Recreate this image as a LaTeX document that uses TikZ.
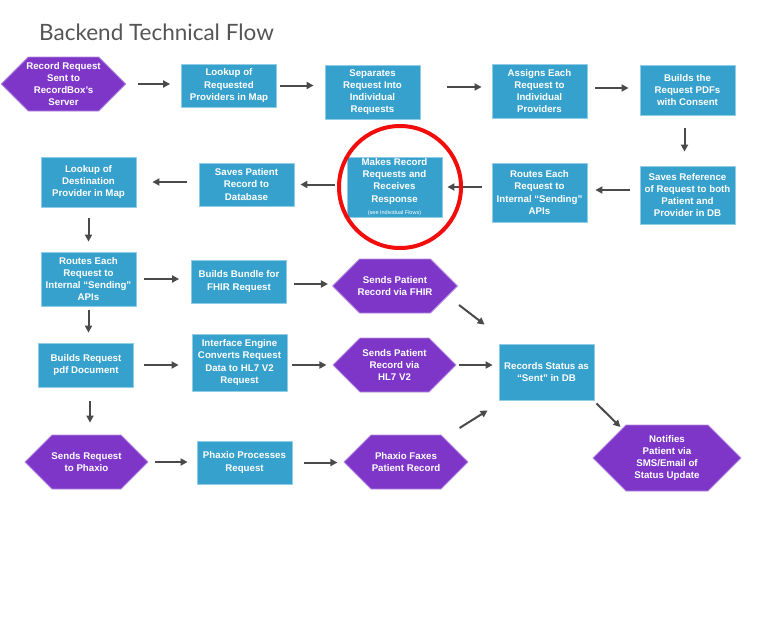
\documentclass[tikz,border=0pt]{standalone}
\usepackage{fontspec}
\setmainfont{Liberation Sans}
\newfontfamily\titlefont{Lato}
\usetikzlibrary{shapes.symbols,arrows.meta}
\definecolor{boxblue}{HTML}{36A1CC}
\definecolor{boxedge}{HTML}{8FCDE6}
\definecolor{hexpurple}{HTML}{7E36C9}
\definecolor{hexedge}{HTML}{B48BE0}
\definecolor{arrowgray}{HTML}{4A4A4A}
\definecolor{titlegray}{HTML}{555555}
\definecolor{ringred}{HTML}{F20D0D}
\begin{document}
\begin{tikzpicture}[x=1pt,y=-1pt,line join=round,>={Triangle[length=7pt,width=7pt]}]
	\tikzset{every node/.style={text=white,font=\fontsize{9.7}{12.2}\selectfont\bfseries,align=center,inner sep=1pt}}
	\tikzset{stepbox/.style={draw=boxedge,fill=boxblue,line width=0.8pt,minimum width=95pt}}
	\tikzset{hexbox/.style={signal,signal to=west and east,signal pointer angle=90,draw=hexedge,fill=hexpurple,line width=0.8pt,inner xsep=-2pt,minimum width=123pt,minimum height=54pt}}
	\tikzset{flow/.style={->,draw=arrowgray,line width=2pt,shorten <=10pt,shorten >=11pt}}
	\useasboundingbox (0,0) rectangle (768,632);
	\node[text=titlegray,font=\titlefont\fontsize{22.5}{27}\selectfont,anchor=base west,inner sep=0pt] (title) at (39,40) {Backend Technical Flow};
	\node[hexbox] (rec) at (63.5,84) {Record Request\\Sent to\\RecordBox’s\\Server};
	\node[stepbox,minimum height=43pt] (look1) at (229,85.5) {Lookup of\\Requested\\Providers in Map};
	\node[stepbox,minimum height=54pt] (sep) at (372.5,92) {Separates\\Request Into\\Individual\\Requests};
	\node[stepbox,minimum height=54pt] (assign) at (539.5,91) {Assigns Each\\Request to\\Individual\\Providers};
	\node[stepbox,minimum height=50pt] (build) at (687.5,90) {Builds the\\Request PDFs\\with Consent};
	\node[stepbox,minimum height=58pt] (saveref) at (687.5,195) {Saves Reference\\of Request to both\\Patient and\\Provider in DB};
	\node[stepbox,minimum height=59pt] (route1) at (539.5,192.5) {Routes Each\\Request to\\Internal “Sending”\\APIs};
	\node[stepbox,minimum height=60pt] (make) at (394.5,187) {Makes Record\\Requests and\\Receives\\Response\\{\fontsize{5.5}{7}\selectfont\mdseries (see Individual Flows)}};
	\node[stepbox,minimum height=43pt] (savepat) at (246.5,184.5) {Saves Patient\\Record to\\Database};
	\node[stepbox,minimum height=50pt] (look2) at (88.5,182) {Lookup of\\Destination\\Provider in Map};
	\node[stepbox,minimum height=54pt] (route2) at (88.5,279) {Routes Each\\Request to\\Internal “Sending”\\APIs};
	\node[stepbox,minimum height=43pt] (bundle) at (239,281.5) {Builds Bundle for\\FHIR Request};
	\node[hexbox,minimum width=124pt] (fhir) at (395,286) {Sends Patient\\Record via FHIR};
	\node[stepbox,minimum height=44pt] (pdf) at (86,365) {Builds Request\\pdf Document};
	\node[stepbox,minimum height=57pt] (engine) at (239.5,362.5) {Interface Engine\\Converts Request\\Data to HL7 V2\\Request};
	\node[hexbox] (hl7) at (394.5,365) {Sends Patient\\Record via\\HL7 V2};
	\node[stepbox,minimum height=56pt] (sent) at (546.5,372) {Records Status as\\“Sent” in DB};
	\node[hexbox] (sendphax) at (86.5,462) {Sends Request\\to Phaxio};
	\node[stepbox,minimum height=43pt] (phaxproc) at (244.5,462.5) {Phaxio Processes\\Request};
	\node[hexbox,minimum width=124pt] (faxes) at (406,462) {Phaxio Faxes\\Patient Record};
	\node[hexbox,minimum width=148pt,minimum height=66pt] (notify) at (667,458) {Notifies\\Patient via\\SMS/Email of\\Status Update};
	\draw[flow,shorten <=12pt] (rec.east) -- (rec.east -| look1.west);
	\draw[flow,shorten <=3pt] (look1.east) -- (look1.east -| sep.west);
	\draw[flow,shorten <=27pt,shorten >=10pt] ([yshift=5pt]sep.east) -- ([yshift=5pt]sep.east -| assign.west);
	\draw[flow,shorten <=8pt] ([yshift=3pt]assign.east) -- ([yshift=3pt]assign.east -| build.west);
	\draw[flow,shorten <=13pt,shorten >=14pt] ([xshift=-3pt]build.south) -- ([xshift=-3pt]build.south |- saveref.north);
	\draw[flow,shorten >=8pt] ([yshift=5pt]saveref.west) -- ([yshift=5pt]saveref.west -| route1.east);
	\draw[flow,shorten >=5pt] (route1.west |- make.east) -- (make.east);
	\draw[flow,shorten <=12pt,shorten >=6pt] (savepat.east -| make.west) -- (savepat.east);
	\draw[flow,shorten <=12pt,shorten >=16pt] (look2.east -| savepat.west) -- (look2.east);
	\draw[flow,shorten <=11pt,shorten >=10pt] (look2.south) -- (route2.north);
	\draw[flow,shorten <=8pt,shorten >=12pt] (route2.east) -- (route2.east -| bundle.west);
	\draw[flow,shorten <=7pt,shorten >=4pt] ([yshift=-2.5pt]bundle.east) -- ([yshift=-2.5pt]bundle.east -| fhir.west);
	\draw[flow,shorten <=0pt,shorten >=0pt] ([xshift=1pt,yshift=-19pt]fhir.east) -- ([xshift=-14pt,yshift=19pt]sent.north west);
	\draw[flow,shorten <=4pt,shorten >=10pt] (route2.south) -- (route2.south |- pdf.north);
	\draw[flow,shorten <=10pt,shorten >=13pt] (pdf.east) -- (pdf.east -| engine.west);
	\draw[flow,shorten <=5pt,shorten >=6pt] (engine.east |- hl7.west) -- (hl7.west);
	\draw[flow,shorten <=2pt,shorten >=6pt] (hl7.east) -- (hl7.east -| sent.west);
	\draw[flow,shorten <=14pt,shorten >=12pt] ([xshift=4pt]pdf.south) -- ([xshift=4pt]pdf.south |- sendphax.north);
	\draw[flow,shorten <=6pt,shorten >=9pt] (sendphax.east) -- (sendphax.east -| phaxproc.west);
	\draw[flow,shorten <=12pt,shorten >=6pt] (phaxproc.east) -- (phaxproc.east -| faxes.west);
	\draw[flow,shorten <=0pt,shorten >=0pt] ([xshift=-9pt,yshift=34pt]faxes.east) -- ([xshift=-11pt,yshift=-10pt]sent.south west);
	\draw[flow,shorten <=0pt,shorten >=0pt] ([xshift=2pt,yshift=-3pt]sent.south east) -- ([xshift=28pt,yshift=31pt]notify.west);
	\draw[ringred,line width=4pt] ([xshift=5.5pt]make.center) circle [radius=61pt];
\end{tikzpicture}
\end{document}
